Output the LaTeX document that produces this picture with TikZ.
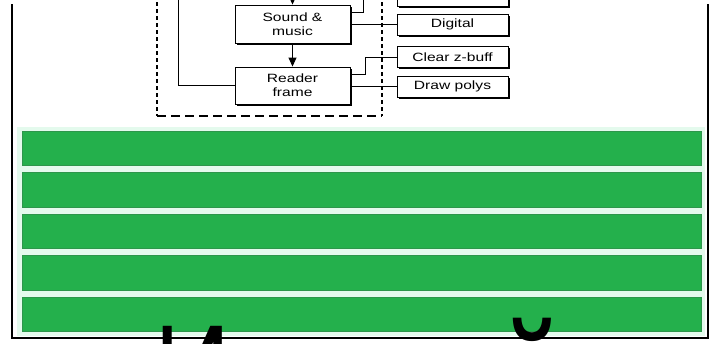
\documentclass[tikz,border=0pt]{standalone}
\usepackage{fontspec}
\setmainfont{Liberation Sans}
\usetikzlibrary{arrows.meta,shadows}
\definecolor{barg}{RGB}{36,176,76}
\definecolor{baredge}{RGB}{45,150,75}
\definecolor{mint}{RGB}{228,250,237}
\newcommand\hs[1]{\scalebox{1.3}[1]{#1}}
\begin{document}
\begin{tikzpicture}[x=1pt,y=-1pt,
  box/.style={draw=black,line width=0.9pt,fill=white,inner sep=0pt,
    drop shadow={shadow xshift=1.5pt,shadow yshift=-1.5pt,opacity=1,fill=black},
    font=\fontsize{12}{14}\selectfont,align=center},
  bigbox/.style={box,minimum width=115pt},
  smallbox/.style={box,minimum width=111pt,minimum height=21pt},
  conn/.style={draw=black,line width=0.9pt},
  arr/.style={conn,-{Triangle[length=9pt,width=8pt]}},
  bar/.style={fill=barg,draw=baredge,line width=0.5pt}]
\clip (0,0) rectangle (710,343);
\fill[white] (0,0) rectangle (710,343);
% bars area
\fill[mint] (17,127) rectangle (705,336);
\foreach \i in {0,...,4}{
  \path[bar] (22,131+\i*41.5) rectangle (701,165.5+\i*41.5);
}
% outer frame
\draw[line width=1.8pt] (12,4) -- (12,338) -- (708,338) -- (708,4);
% dashed group
\draw[line width=1.4pt,dash pattern=on 4pt off 3pt] (157,-5) -- (157,116);
\draw[line width=1.4pt,dash pattern=on 4pt off 3pt] (382,-5) -- (382,116);
\draw[line width=1.4pt,dash pattern=on 9pt off 5pt] (157,116) -- (382,116);
% nodes
\node[bigbox,minimum height=38pt] (snd) at (292.5,24) {\hs{Sound \&}\\\hs{music}};
\node[bigbox,minimum height=37pt] (rdr) at (292.5,85.5) {\hs{Reader}\\\hs{frame}};
\node[smallbox] (topb) at (452.5,-4.5) {};
\node[smallbox] (dig) at (452.5,24.5) {\hs{Digital}};
\node[smallbox] (clr) at (452.5,57) {\hs{Clear z-buff}};
\node[smallbox] (drw) at (452.5,86.5) {\hs{Draw polys}};
% coordinates for free ends
\coordinate (a0) at (292.5,-6);
\coordinate (l0) at (178,-6);
\coordinate (s1) at (363,12);
\coordinate (s1top) at (363,-6);
\coordinate (k1) at (365,74);
% connectors
\draw[arr] (a0) -- (snd.north);
\draw[arr] (snd.south) -- (rdr.north);
\draw[conn] (l0) |- (rdr.west);
\draw[conn] (snd.east |- s1) -- (s1) -- (s1top);
\draw[conn] (snd.east |- dig.west) -- (dig.west);
\draw[conn] (rdr.east |- k1) -- (k1) |- (clr.west);
\draw[conn] (rdr.east |- drw.west) -- (drw.west);
% big title (cut off at the bottom edge)
\node[anchor=base west,inner sep=0pt,font=\fontsize{150}{160}\selectfont] (title) at (154,429) {\scalebox{0.71}[1]{Игровой}};
\end{tikzpicture}
\end{document}
